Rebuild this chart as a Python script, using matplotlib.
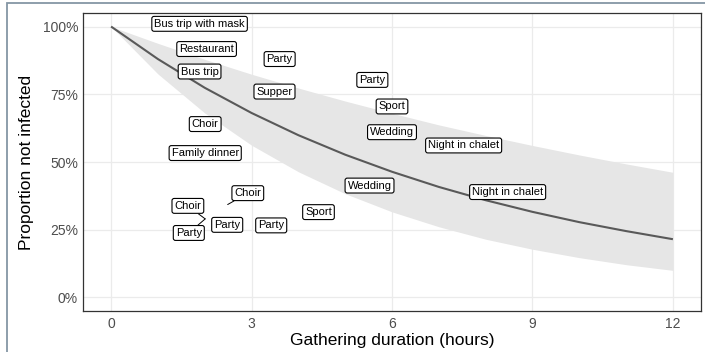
import matplotlib
matplotlib.use("Agg")
import matplotlib.pyplot as plt
from matplotlib.patches import Rectangle

plt.rcParams['font.family'] = ['Liberation Sans', 'DejaVu Sans']

# Fitted share of attendees not infected, by gathering duration
hours = [0, 1, 2, 3, 4, 5, 6, 7, 8, 9, 10, 11, 12]
fit = [1.000, 0.880, 0.774, 0.681, 0.599, 0.527, 0.464, 0.408, 0.359, 0.316, 0.278, 0.245, 0.215]
upper = [1.000, 0.938, 0.879, 0.824, 0.773, 0.725, 0.680, 0.637, 0.598, 0.561, 0.526, 0.493, 0.462]
lower = [1.000, 0.825, 0.681, 0.562, 0.464, 0.383, 0.316, 0.261, 0.215, 0.178, 0.147, 0.121, 0.100]

# Observed outbreaks
events = ["Bus trip with mask", "Restaurant", "Bus trip", "Party", "Supper", "Choir",
          "Family dinner", "Party", "Sport", "Wedding", "Night in chalet", "Choir",
          "Choir", "Party", "Party", "Party", "Sport", "Wedding", "Night in chalet"]
duration = [1.89, 2.04, 1.89, 3.60, 3.49, 2.01, 2.01, 5.58, 6.00, 6.00, 7.53, 2.49,
            2.01, 2.48, 2.01, 3.42, 4.43, 5.52, 8.47]
not_infected = [1.010, 0.917, 0.834, 0.880, 0.760, 0.640, 0.533, 0.803, 0.705, 0.610,
                0.561, 0.343, 0.290, 0.268, 0.290, 0.266, 0.315, 0.413, 0.389]
# label displacement (repelled labels)
label_dx = [0, 0, 0, 0, 0, 0, 0, 0, 0, 0, 0, 0.43, -0.37, 0, -0.35, 0, 0, 0, 0]
label_dy = [0, 0, 0, 0, 0, 0, 0, 0, 0, 0, 0, 0.042, 0.048, 0, -0.052, 0, 0, 0, 0]

x_ticks = [0, 3, 6, 9, 12]
y_ticks = [0, 0.25, 0.5, 0.75, 1.0]
y_ticklabels = ["0%", "25%", "50%", "75%", "100%"]

fig = plt.figure(figsize=(7.05, 3.52), dpi=100)
ax = fig.add_axes([83 / 705, 1 - 311 / 352, 618 / 705, 298 / 352])

ax.fill_between(hours, lower, upper, color="#e6e6e6", lw=0, zorder=1)
ax.plot(hours, fit, color="#595959", lw=1.5, zorder=2, solid_capstyle="butt")

for name, x, y, dx, dy in zip(events, duration, not_infected, label_dx, label_dy):
    bbox = dict(boxstyle="round,pad=0.22,rounding_size=0.2", fc="white", ec="black", lw=0.8)
    if dx == 0 and dy == 0:
        ax.text(x, y, name, fontsize=8, ha="center", va="center", bbox=bbox, zorder=4)
    else:
        ax.annotate(name, xy=(x, y), xytext=(x + dx, y + dy), fontsize=8,
                    ha="center", va="center", bbox=bbox, zorder=4,
                    arrowprops=dict(arrowstyle="-", color="black", lw=0.7,
                                    shrinkA=0, shrinkB=0))

ax.set_xlim(-0.6, 12.6)
ax.set_ylim(-0.05, 1.05)
ax.set_xticks(x_ticks)
ax.set_yticks(y_ticks)
ax.set_yticklabels(y_ticklabels)
ax.grid(True, color="#ebebeb", lw=0.9, zorder=0)
ax.set_axisbelow(True)
for s in ax.spines.values():
    s.set_color("#333333")
    s.set_linewidth(0.9)
ax.tick_params(axis="both", colors="#333333", labelcolor="#4d4d4d", labelsize=10,
               length=0, width=0.8)
ax.tick_params(axis="y", pad=3.6)
ax.tick_params(axis="x", pad=4.0)
ax.set_xlabel("Gathering duration (hours)", fontsize=12.5, labelpad=2)
ax.set_ylabel("Proportion not infected", fontsize=12.5, labelpad=6)

fig.patches.append(Rectangle((7 / 705, -0.1), 1.2, 1.1 - 3 / 352, transform=fig.transFigure,
                             fill=False, ec="#8596a5", lw=1.3))

fig.savefig("out.png", dpi=100)
